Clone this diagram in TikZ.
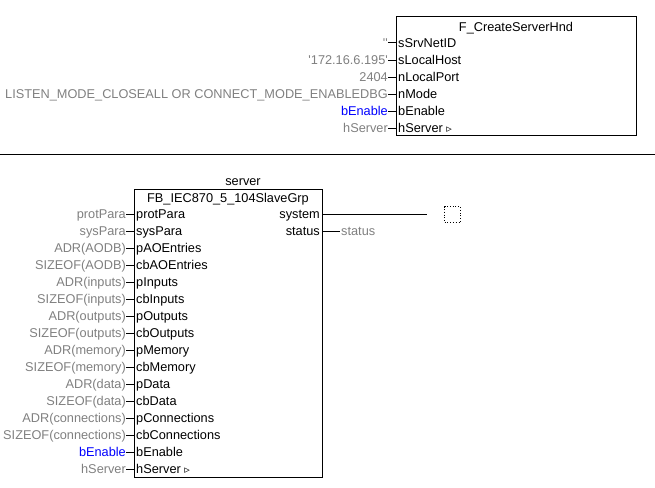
\documentclass[tikz,border=0pt]{standalone}
\usepackage{fontspec}
\setmainfont{Liberation Sans}
\newfontfamily\symfont{DejaVu Sans}
\definecolor{pingray}{RGB}{128,128,128}
\definecolor{pinblue}{RGB}{0,0,255}
\newcommand\tri{\ {\symfont\fontsize{11}{11}\selectfont ▹}}
\begin{document}
\begin{tikzpicture}[x=1pt,y=-1pt,
  every node/.style={font=\fontsize{12.75}{15}\selectfont, inner sep=0pt, text height=9pt, text depth=0.5pt},
  fb/.style={draw, line width=1pt, inner sep=0pt, text height=, text depth=},
  pinin/.style={anchor=west, inner xsep=2pt},
  pinout/.style={anchor=east, inner xsep=2pt},
  arg/.style={anchor=east},
  wire/.style={line width=1pt}]
\useasboundingbox (0,0) rectangle (655,487);

% ---------- top block ----------
\node[fb, minimum width=240pt, minimum height=119pt, anchor=north west] (f1) at (396,16) {};
\node (f1t) at (516,27) {F\_CreateServerHnd};
\foreach \pn/\at/\tc [count=\i from 0] in {
  {sSrvNetID}/{\textquotesingle\textquotesingle}/pingray,
  {sLocalHost}/{\textquotesingle172.16.6.195\textquotesingle}/pingray,
  {nLocalPort}/{2404}/pingray,
  {nMode}/{LISTEN\_MODE\_CLOSEALL OR CONNECT\_MODE\_ENABLEDBG}/pingray,
  {bEnable}/{bEnable}/pinblue,
  {hServer\tri}/{hServer}/pingray}
{
  \node[pinin] (f1in\i) at (396,43+17*\i) {\pn};
  \node[arg, text=\tc] (f1arg\i) at (388,43+17*\i) {\at};
  \draw[wire] (f1arg\i.east) -- (f1in\i.west);
}

% separator
\coordinate (sepl) at (0,154.5);
\coordinate (sepr) at (655,154.5);
\draw[wire] (sepl) -- (sepr);

% ---------- bottom block ----------
\node (inst) at (243,181) {server};
\node[fb, minimum width=188pt, minimum height=288pt, anchor=north west] (fb2) at (134,189) {};
\node (fb2t) at (228,198) {FB\_IEC870\_5\_104SlaveGrp};
\foreach \pn/\at/\tc [count=\i from 0] in {
  {protPara}/{protPara}/pingray,
  {sysPara}/{sysPara}/pingray,
  {pAOEntries}/{ADR(AODB)}/pingray,
  {cbAOEntries}/{SIZEOF(AODB)}/pingray,
  {pInputs}/{ADR(inputs)}/pingray,
  {cbInputs}/{SIZEOF(inputs)}/pingray,
  {pOutputs}/{ADR(outputs)}/pingray,
  {cbOutputs}/{SIZEOF(outputs)}/pingray,
  {pMemory}/{ADR(memory)}/pingray,
  {cbMemory}/{SIZEOF(memory)}/pingray,
  {pData}/{ADR(data)}/pingray,
  {cbData}/{SIZEOF(data)}/pingray,
  {pConnections}/{ADR(connections)}/pingray,
  {cbConnections}/{SIZEOF(connections)}/pingray,
  {bEnable}/{bEnable}/pinblue,
  {hServer\tri}/{hServer}/pingray}
{
  \node[pinin] (fb2in\i) at (134,214.5+17*\i) {\pn};
  \node[arg, text=\tc] (fb2arg\i) at (126,214.5+17*\i) {\at};
  \draw[wire] (fb2arg\i.east) -- (fb2in\i.west);
}
% outputs
\node[pinout] (fb2sys) at (322,214.5) {system};
\node[pinout] (fb2stat) at (322,231.5) {status};
\coordinate (sysend) at (427,214.5);
\draw[wire] (fb2sys.east) -- (sysend);
\node[draw, dotted, line width=0.8pt, minimum width=16pt, minimum height=16pt, text height=, text depth=] (sysbox) at (452.5,214.5) {};
\node[anchor=west, text=pingray, inner xsep=1pt] (statvar) at (340,231.5) {status};
\draw[wire] (fb2stat.east) -- (statvar.west);
\end{tikzpicture}
\end{document}
